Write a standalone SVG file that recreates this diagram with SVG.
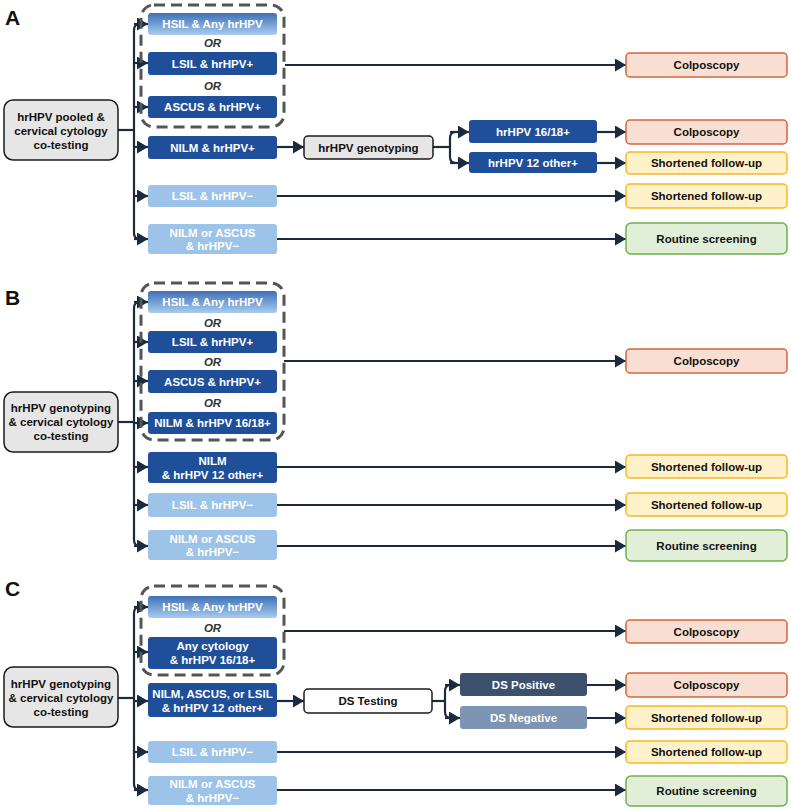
<svg xmlns="http://www.w3.org/2000/svg" width="791" height="810" viewBox="0 0 791 810">
<defs>
<linearGradient id="hsil" x1="0" y1="0" x2="0" y2="1">
<stop offset="0" stop-color="#3f71b6"/>
<stop offset="1" stop-color="#a9cbee"/>
</linearGradient>
<marker id="ah" markerUnits="userSpaceOnUse" markerWidth="12" markerHeight="14" refX="11" refY="6.5" orient="auto">
<path d="M0,0 L11,6.5 L0,13 z" fill="#1b2a3c"/>
</marker>
<style>
.t{font-family:"Liberation Sans",Arial,sans-serif;font-weight:bold;font-size:11.5px;text-anchor:middle;dominant-baseline:central}
.w{fill:#fff}
.k{fill:#111}
.or{font-family:"Liberation Sans",Arial,sans-serif;font-weight:bold;font-style:italic;font-size:11.5px;text-anchor:middle;dominant-baseline:central;fill:#333}
.lbl{font-family:"Liberation Sans",Arial,sans-serif;font-weight:bold;font-size:21px;fill:#111}
.src{fill:#e6e6e6;stroke:#1b1b1b;stroke-width:1.5}
.gen{fill:#e6e6e6;stroke:#1b1b1b;stroke-width:1.5}
.ds{fill:#fff;stroke:#1b1b1b;stroke-width:1.5}
.dk{fill:#1f4f99}
.lt{fill:#9dc3e8}
.hs{fill:url(#hsil)}
.dsp{fill:#3c4f6c}
.dsn{fill:#7e94b3}
.col{fill:#f9dfd3;stroke:#d3653d;stroke-width:1.5}
.sh{fill:#fff1c9;stroke:#f5b821;stroke-width:1.5}
.rt{fill:#e1efd8;stroke:#6db04c;stroke-width:1.5}
.dash{fill:none;stroke:#555;stroke-width:3;stroke-dasharray:11 6}
.c{fill:none;stroke:#1b2a3c;stroke-width:2.2;stroke-linejoin:round}
.a{fill:none;stroke:#1b2a3c;stroke-width:2.2;marker-end:url(#ah)}
</style>
</defs>
<rect width="791" height="810" fill="#fff"/>

<text class="lbl" x="5" y="25">A</text>
<text class="lbl" x="5" y="305">B</text>
<text class="lbl" x="5" y="596">C</text>

<g id="connectors">
<!-- A -->
<path class="c" d="M118,130 H134"/>
<path class="c" d="M140,24 Q134,24 134,30 V233 Q134,239 140,239"/>
<path class="a" d="M134,24 H148"/>
<path class="a" d="M134,63 H148"/>
<path class="a" d="M134,107 H148"/>
<path class="a" d="M134,147 H148"/>
<path class="a" d="M134,196 H148"/>
<path class="a" d="M134,239 H148"/>
<path class="a" d="M285,65 H626"/>
<path class="a" d="M277,147 H304"/>
<path class="c" d="M433,147 H450"/>
<path class="c" d="M456,132 Q450,132 450,138 V157 Q450,163 456,163"/>
<path class="a" d="M450,132 H469"/>
<path class="a" d="M450,163 H469"/>
<path class="a" d="M597,132 H626"/>
<path class="a" d="M597,163 H626"/>
<path class="a" d="M277,196 H626"/>
<path class="a" d="M277,239 H626"/>
<!-- B -->
<path class="c" d="M118,422 H134"/>
<path class="c" d="M140,302 Q134,302 134,308 V540 Q134,546 140,546"/>
<path class="a" d="M134,302 H148"/>
<path class="a" d="M134,342 H148"/>
<path class="a" d="M134,381 H148"/>
<path class="a" d="M134,423 H148"/>
<path class="a" d="M134,467 H148"/>
<path class="a" d="M134,505 H148"/>
<path class="a" d="M134,546 H148"/>
<path class="a" d="M284,361 H626"/>
<path class="a" d="M277,467 H626"/>
<path class="a" d="M277,505 H626"/>
<path class="a" d="M277,546 H626"/>
<!-- C -->
<path class="c" d="M118,698 H134"/>
<path class="c" d="M140,607 Q134,607 134,613 V784 Q134,790 140,790"/>
<path class="a" d="M134,607 H148"/>
<path class="a" d="M134,652 H148"/>
<path class="a" d="M134,701 H148"/>
<path class="a" d="M134,752 H148"/>
<path class="a" d="M134,790 H148"/>
<path class="a" d="M284,631 H626"/>
<path class="a" d="M277,701 H304"/>
<path class="c" d="M432,701 H445"/>
<path class="c" d="M451,685 Q445,685 445,691 V712 Q445,718 451,718"/>
<path class="a" d="M445,685 H460"/>
<path class="a" d="M445,718 H460"/>
<path class="a" d="M587,685 H626"/>
<path class="a" d="M587,718 H626"/>
<path class="a" d="M277,752 H626"/>
<path class="a" d="M277,790 H626"/>
</g>

<!-- Section A -->
<g id="A-src"><rect class="src" x="4" y="100" width="114" height="60" rx="9"/>
<text class="t k" x="61" y="117">hrHPV pooled &amp;</text>
<text class="t k" x="61" y="131">cervical cytology</text>
<text class="t k" x="61" y="145">co-testing</text></g>
<g id="A-group"><rect class="dash" x="141" y="5" width="143" height="122" rx="13"/></g>
<g id="A-hsil"><rect class="hs" x="148" y="13" width="129" height="22" rx="3"/><text class="t w" x="212.5" y="24">HSIL &amp; Any hrHPV</text></g>
<g id="A-or1"><text class="or" x="212.5" y="43">OR</text></g>
<g id="A-lsil"><rect class="dk" x="148" y="52" width="129" height="23" rx="3"/><text class="t w" x="212.5" y="63.5">LSIL &amp; hrHPV+</text></g>
<g id="A-or2"><text class="or" x="212.5" y="86">OR</text></g>
<g id="A-ascus"><rect class="dk" x="148" y="96" width="129" height="22" rx="3"/><text class="t w" x="212.5" y="107">ASCUS &amp; hrHPV+</text></g>
<g id="A-nilm"><rect class="dk" x="148" y="136" width="129" height="23" rx="3"/><text class="t w" x="212.5" y="147.5">NILM &amp; hrHPV+</text></g>
<g id="A-lsilneg"><rect class="lt" x="148" y="185" width="129" height="22" rx="3"/><text class="t w" x="212.5" y="196">LSIL &amp; hrHPV−</text></g>
<g id="A-nilmneg"><rect class="lt" x="148" y="224" width="129" height="30" rx="3"/><text class="t w" x="212.5" y="232.5">NILM or ASCUS</text><text class="t w" x="212.5" y="246">&amp; hrHPV−</text></g>
<g id="A-geno"><rect class="gen" x="304" y="136" width="129" height="23" rx="4"/><text class="t k" x="368.5" y="147.5">hrHPV genotyping</text></g>
<g id="A-1618"><rect class="dk" x="469" y="120" width="128" height="23" rx="3"/><text class="t w" x="533" y="131.5">hrHPV 16/18+</text></g>
<g id="A-12"><rect class="dk" x="469" y="152" width="128" height="21" rx="3"/><text class="t w" x="533" y="162.5">hrHPV 12 other+</text></g>
<g id="A-out1"><rect class="col" x="626" y="53" width="161" height="24" rx="4"/><text class="t k" x="706.5" y="65">Colposcopy</text></g>
<g id="A-out2"><rect class="col" x="626" y="120" width="161" height="24" rx="4"/><text class="t k" x="706.5" y="132">Colposcopy</text></g>
<g id="A-out3"><rect class="sh" x="626" y="152" width="161" height="22" rx="4"/><text class="t k" x="706.5" y="163">Shortened follow-up</text></g>
<g id="A-out4"><rect class="sh" x="626" y="184" width="161" height="24" rx="4"/><text class="t k" x="706.5" y="196">Shortened follow-up</text></g>
<g id="A-out5"><rect class="rt" x="626" y="223" width="161" height="31" rx="5"/><text class="t k" x="706.5" y="239">Routine screening</text></g>

<!-- Section B -->
<g id="B-src"><rect class="src" x="4" y="392" width="114" height="60" rx="9"/>
<text class="t k" x="61" y="408">hrHPV genotyping</text>
<text class="t k" x="61" y="422">&amp; cervical cytology</text>
<text class="t k" x="61" y="436">co-testing</text></g>
<g id="B-group"><rect class="dash" x="141" y="283" width="143" height="157" rx="13"/></g>
<g id="B-hsil"><rect class="hs" x="148" y="291" width="129" height="22" rx="3"/><text class="t w" x="212.5" y="302">HSIL &amp; Any hrHPV</text></g>
<g id="B-or1"><text class="or" x="212.5" y="322.5">OR</text></g>
<g id="B-lsil"><rect class="dk" x="148" y="331" width="129" height="22" rx="3"/><text class="t w" x="212.5" y="342">LSIL &amp; hrHPV+</text></g>
<g id="B-or2"><text class="or" x="212.5" y="362">OR</text></g>
<g id="B-ascus"><rect class="dk" x="148" y="370" width="129" height="23" rx="3"/><text class="t w" x="212.5" y="381.5">ASCUS &amp; hrHPV+</text></g>
<g id="B-or3"><text class="or" x="212.5" y="402.5">OR</text></g>
<g id="B-nilm1618"><rect class="dk" x="148" y="412" width="129" height="22" rx="3"/><text class="t w" x="212.5" y="423">NILM &amp; hrHPV 16/18+</text></g>
<g id="B-nilm12"><rect class="dk" x="148" y="452" width="129" height="31" rx="3"/><text class="t w" x="212.5" y="461">NILM</text><text class="t w" x="212.5" y="474.5">&amp; hrHPV 12 other+</text></g>
<g id="B-lsilneg"><rect class="lt" x="148" y="493" width="129" height="24" rx="3"/><text class="t w" x="212.5" y="505">LSIL &amp; hrHPV−</text></g>
<g id="B-nilmneg"><rect class="lt" x="148" y="530" width="129" height="30" rx="3"/><text class="t w" x="212.5" y="538.5">NILM or ASCUS</text><text class="t w" x="212.5" y="552">&amp; hrHPV−</text></g>
<g id="B-out1"><rect class="col" x="626" y="349" width="161" height="24" rx="4"/><text class="t k" x="706.5" y="361">Colposcopy</text></g>
<g id="B-out2"><rect class="sh" x="626" y="455" width="161" height="23" rx="4"/><text class="t k" x="706.5" y="466.5">Shortened follow-up</text></g>
<g id="B-out3"><rect class="sh" x="626" y="493" width="161" height="23" rx="4"/><text class="t k" x="706.5" y="504.5">Shortened follow-up</text></g>
<g id="B-out4"><rect class="rt" x="626" y="530" width="161" height="31" rx="5"/><text class="t k" x="706.5" y="546">Routine screening</text></g>

<!-- Section C -->
<g id="C-src"><rect class="src" x="4" y="667" width="114" height="60" rx="9"/>
<text class="t k" x="61" y="684">hrHPV genotyping</text>
<text class="t k" x="61" y="698">&amp; cervical cytology</text>
<text class="t k" x="61" y="712">co-testing</text></g>
<g id="C-group"><rect class="dash" x="141" y="586" width="143" height="89" rx="13"/></g>
<g id="C-hsil"><rect class="hs" x="148" y="596" width="129" height="22" rx="3"/><text class="t w" x="212.5" y="607">HSIL &amp; Any hrHPV</text></g>
<g id="C-or1"><text class="or" x="212.5" y="628">OR</text></g>
<g id="C-any"><rect class="dk" x="148" y="637" width="129" height="32" rx="3"/><text class="t w" x="212.5" y="646">Any cytology</text><text class="t w" x="212.5" y="660">&amp; hrHPV 16/18+</text></g>
<g id="C-nilm12"><rect class="dk" x="148" y="683" width="129" height="34" rx="3"/><text class="t w" x="212.5" y="693.5">NILM, ASCUS, or LSIL</text><text class="t w" x="212.5" y="707.5">&amp; hrHPV 12 other+</text></g>
<g id="C-lsilneg"><rect class="lt" x="148" y="741" width="129" height="22" rx="3"/><text class="t w" x="212.5" y="752">LSIL &amp; hrHPV−</text></g>
<g id="C-nilmneg"><rect class="lt" x="148" y="776" width="129" height="29" rx="3"/><text class="t w" x="212.5" y="784">NILM or ASCUS</text><text class="t w" x="212.5" y="797.5">&amp; hrHPV−</text></g>
<g id="C-ds"><rect class="ds" x="304" y="689" width="128" height="24" rx="4"/><text class="t k" x="368" y="701">DS Testing</text></g>
<g id="C-dspos"><rect class="dsp" x="460" y="673" width="127" height="23" rx="3"/><text class="t w" x="523.5" y="684.5">DS Positive</text></g>
<g id="C-dsneg"><rect class="dsn" x="460" y="706" width="127" height="23" rx="3"/><text class="t w" x="523.5" y="717.5">DS Negative</text></g>
<g id="C-out1"><rect class="col" x="626" y="620" width="161" height="23" rx="4"/><text class="t k" x="706.5" y="631.5">Colposcopy</text></g>
<g id="C-out2"><rect class="col" x="626" y="673" width="161" height="24" rx="4"/><text class="t k" x="706.5" y="685">Colposcopy</text></g>
<g id="C-out3"><rect class="sh" x="626" y="706" width="161" height="23" rx="4"/><text class="t k" x="706.5" y="717.5">Shortened follow-up</text></g>
<g id="C-out4"><rect class="sh" x="626" y="741" width="161" height="22" rx="4"/><text class="t k" x="706.5" y="752">Shortened follow-up</text></g>
<g id="C-out5"><rect class="rt" x="626" y="776" width="161" height="30" rx="5"/><text class="t k" x="706.5" y="791">Routine screening</text></g>
</svg>
